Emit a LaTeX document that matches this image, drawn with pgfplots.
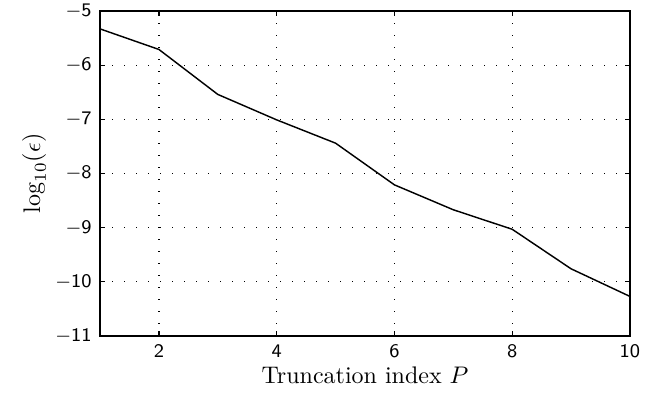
\documentclass[border=0pt]{standalone}
\usepackage{pgfplots}
\pgfplotsset{compat=1.18}
\begin{document}
\begin{tikzpicture}
\begin{axis}[
  scale only axis,
  width=220.8pt, height=135.4pt,
  xmin=1, xmax=10, ymin=-11, ymax=-5,
  xtick={2,4,6,8,10},
  ytick={-11,-10,-9,-8,-7,-6,-5},
  xticklabels={2,4,6,8,10},
  yticklabels={$-$11,$-$10,$-$9,$-$8,$-$7,$-$6,$-$5},
  ticklabel style={font=\footnotesize\sffamily},
  tick align=inside,
  major tick length=2pt,
  axis line style={line width=0.9pt},
  tick style={line width=0.5pt,black},
  grid=major,
  major grid style={black, line width=0.5pt, dash pattern=on 0.5pt off 4.5pt},
  xlabel={Truncation index $P$},
  ylabel={$\log_{10}(\epsilon)$},
  xlabel style={yshift=3pt},
  ylabel style={yshift=-3pt},
]
\addplot[black, line width=0.6pt] coordinates {
  (1,-5.33) (2,-5.71) (3,-6.54) (4,-7.01) (5,-7.44)
  (6,-8.21) (7,-8.67) (8,-9.03) (9,-9.76) (10,-10.27)
};
\end{axis}
\pgfresetboundingbox
\useasboundingbox ([shift={(-41.7pt,-26.7pt)}]current axis.south west) rectangle ([shift={(16.7pt,4.6pt)}]current axis.north east);
\end{tikzpicture}
\end{document}
